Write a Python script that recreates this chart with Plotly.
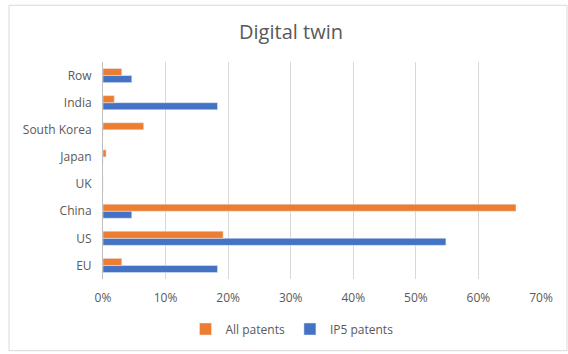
import plotly.graph_objects as go

# Country shares of digital-twin patents
countries = ["EU", "US", "China", "UK", "Japan", "South Korea", "India", "Row"]
all_patents = [0.030, 0.192, 0.660, 0.0, 0.005, 0.065, 0.018, 0.030]
ip5_patents = [0.183, 0.548, 0.046, 0.0, 0.0, 0.0, 0.183, 0.046]
x_ticks = [0, 0.1, 0.2, 0.3, 0.4, 0.5, 0.6, 0.7]

W, H = 568, 354
L, R, T, B = 103, 27, 62, 74
pw, ph = W - L - R, H - T - B

fig = go.Figure()
fig.add_trace(go.Bar(
    y=countries, x=ip5_patents, orientation="h", name="IP5 patents",
    marker=dict(color="#4472C4"), legendrank=2,
))
fig.add_trace(go.Bar(
    y=countries, x=all_patents, orientation="h", name="All patents",
    marker=dict(color="#ED7D31"), legendrank=1,
))

font_color = "#595959"
fig.update_layout(
    width=W, height=H,
    margin=dict(l=L, r=R, t=T, b=B),
    paper_bgcolor="white", plot_bgcolor="white",
    barmode="group", bargap=0.48, bargroupgap=0,
    font=dict(family="Open Sans, Liberation Sans, sans-serif", size=12, color=font_color),
    title=dict(text="Digital twin", x=291 / W, xref="container", xanchor="center",
               y=1 - 32 / H, yanchor="middle",
               font=dict(size=20, color=font_color)),
    legend=dict(orientation="h", x=(292 - L) / pw, xanchor="center",
                y=-(329 - (H - B)) / ph, yanchor="middle",
                font=dict(size=12, color=font_color),
                itemwidth=30, traceorder="normal"),
    xaxis=dict(range=[0, 0.7], tickvals=x_ticks, tickformat=".0%",
               showgrid=True, gridcolor="#D9D9D9", gridwidth=1,
               zeroline=False, showline=False, ticks="", ticklabelstandoff=10,
               tickfont=dict(size=12, color=font_color)),
    yaxis=dict(showgrid=False, showline=True, linecolor="#BFBFBF", linewidth=1,
               ticks="", ticklabelstandoff=8,
               tickfont=dict(size=12, color=font_color)),
    shapes=[dict(type="rect", xref="paper", yref="paper",
                 x0=(9 - L) / pw, x1=(567 - L) / pw,
                 y0=-(352 - (H - B)) / ph, y1=1 + (T - 5) / ph,
                 line=dict(color="#D9D9D9", width=1), layer="below")],
)

fig.write_html("out.html")
